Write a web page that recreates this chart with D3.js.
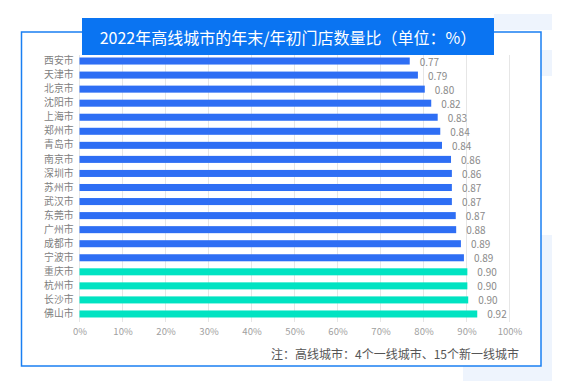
<!DOCTYPE html>
<html><head><meta charset="utf-8">
<script src="https://cdn.jsdelivr.net/npm/d3@7"></script>
<style>body{margin:0;background:#fff;}svg{display:block;}</style>
</head><body>
<svg id="chart" width="563" height="388"></svg>
<script>
const cities = ["西安市","天津市","北京市","沈阳市","上海市","郑州市","青岛市","南京市","深圳市","苏州市","武汉市","东莞市","广州市","成都市","宁波市","重庆市","杭州市","长沙市","佛山市"];
const values = [0.768,0.787,0.803,0.818,0.833,0.839,0.843,0.864,0.866,0.866,0.866,0.875,0.876,0.887,0.894,0.902,0.902,0.904,0.925];
const valueLabels = ["0.77","0.79","0.80","0.82","0.83","0.84","0.84","0.86","0.86","0.87","0.87","0.87","0.88","0.89","0.89","0.90","0.90","0.90","0.92"];
const newFirstTier = ["重庆市","杭州市","长沙市","佛山市"];
const xTicks = [0,0.1,0.2,0.3,0.4,0.5,0.6,0.7,0.8,0.9,1.0];
const title = "2022年高线城市的年末/年初门店数量比（单位：%）";
const note = "注：高线城市：4个一线城市、15个新一线城市";

const svg = d3.select("#chart");
const font = "'Noto Sans CJK SC','Noto Sans',sans-serif";

// decorative light panels
svg.append("rect").attr("x",494).attr("y",14).attr("width",58).attr("height",16).attr("fill","#eef4fd");
svg.append("rect").attr("x",541).attr("y",50).attr("width",11).attr("height",26).attr("fill","#eef4fd");
svg.append("rect").attr("x",541).attr("y",235).attr("width",11).attr("height",146).attr("fill","#eef4fd");
svg.append("rect").attr("x",463).attr("y",366).attr("width",89).attr("height",15).attr("fill","#eef4fd");

// frame
svg.append("rect").attr("x",21.5).attr("y",32).attr("width",519.5).attr("height",334)
  .attr("fill","#fff").attr("stroke","#1a7ff2").attr("stroke-width",1.5);

// title box
svg.append("rect").attr("x",82).attr("y",18).attr("width",412).attr("height",37).attr("fill","#0a74f2");
svg.append("text").attr("x",288).attr("y",37).attr("text-anchor","middle").attr("dominant-baseline","central")
  .attr("fill","#fff").attr("font-family",font).attr("font-size",16).text(title);

const x = d3.scaleLinear().domain([0,1]).range([79.5,509.5]);
const y = d3.scaleBand().domain(cities).range([54,321]).paddingInner(0.5).paddingOuter(0.25);

// gridlines
svg.append("g").selectAll("line").data(xTicks).join("line")
  .attr("x1",d=>x(d)).attr("x2",d=>x(d)).attr("y1",55).attr("y2",322)
  .attr("stroke","#e6e6e6").attr("stroke-width",1);

// bars
svg.append("g").selectAll("rect").data(cities).join("rect")
  .attr("x",x(0)).attr("y",d=>y(d)).attr("height",y.bandwidth())
  .attr("width",(d,i)=>x(values[i])-x(0))
  .attr("fill",d=>newFirstTier.includes(d)?"#00e3c2":"#2e6ef4");

// value labels
svg.append("g").selectAll("text").data(cities).join("text")
  .attr("x",(d,i)=>x(values[i])+10).attr("y",d=>y(d)+y.bandwidth()/2)
  .attr("dominant-baseline","central").attr("fill","#8a8a8a")
  .attr("font-family",font).attr("font-size",10).text((d,i)=>valueLabels[i]);

// category labels
const yAxis = d3.axisLeft(y).tickSize(0).tickPadding(6);
const yg = svg.append("g").attr("transform",`translate(${x(0)},0)`).call(yAxis);
yg.select(".domain").remove();
yg.selectAll("text").attr("fill","#808080").attr("font-family",font).attr("font-size",9.8);

// x axis
const xAxis = d3.axisBottom(x).tickValues(xTicks).tickSize(0).tickPadding(0).tickFormat(d3.format(".0%"));
const xg = svg.append("g").attr("transform","translate(0,328)").call(xAxis);
xg.select(".domain").remove();
xg.selectAll("text").attr("fill","#a0a0a0").attr("font-family",font).attr("font-size",9.5);

// note
svg.append("text").attr("x",519).attr("y",359).attr("text-anchor","end")
  .attr("fill","#555").attr("font-family",font).attr("font-size",12).text(note);
</script>
</body></html>
